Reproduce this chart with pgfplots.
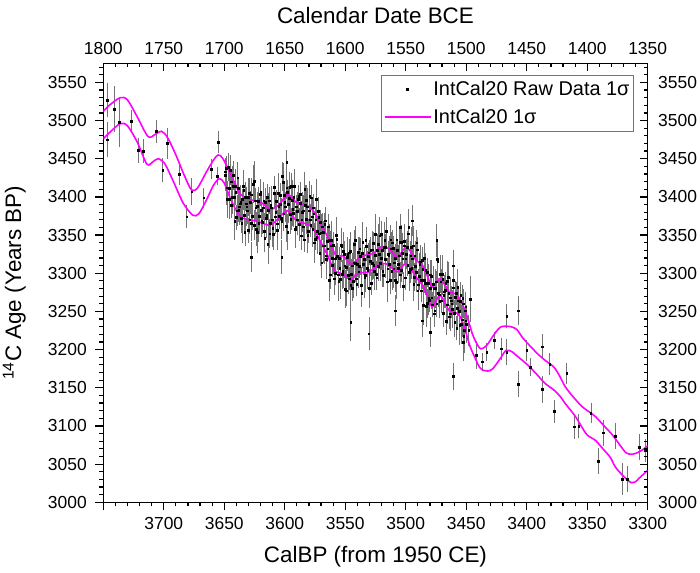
\documentclass[border=0pt]{standalone}
\usepackage{pgfplots}
\pgfplotsset{compat=1.18}
\usepackage{fontspec}
\setmainfont{Liberation Sans}
\definecolor{curve}{RGB}{255,0,255}
\pgfplotsset{
  rawlegend/.style={legend image code/.code={\draw[mark repeat=2,mark phase=2,##1] plot coordinates {(0bp,0bp) (23bp,0bp) (46bp,0bp)};}},
  linelegend/.style={legend image code/.code={\draw[##1] (0bp,0bp) -- (46bp,0bp);}},
}
\begin{document}
\begin{tikzpicture}
\path[use as bounding box] (-103.3bp,-70.7bp) rectangle (596.7bp,502.3bp);
\pgfplotsset{
  common/.style={
    width=544.4bp, height=439bp, scale only axis,
    ymin=3000, ymax=3575,
    x dir=reverse,
    axis line style={line width=1.2bp},
    tick style={black, line width=1.2bp},
    major tick length=8bp, minor tick length=4bp,
    tick label style={font=\fontsize{17.5}{20}\selectfont},
    /pgf/number format/1000 sep={},
    /pgf/number format/assume math mode=true,
    ytick={3000,3050,...,3550},
    minor ytick={3000,3010,...,3570},
  }
}
\begin{axis}[common,
  xmin=3300, xmax=3750,
  xtick={3300,3350,...,3750},
  xticklabels={3300,3350,3400,3450,3500,3550,3600,3650,3700,{}},
  minor xtick={3300,3310,...,3750},
  xtick pos=left, ytick pos=left,
  tick align=outside,
  xticklabel style={yshift=-4bp},
  yticklabel style={xshift=-5bp},
  xlabel={CalBP (from 1950 CE)},
  ylabel={\textsuperscript{14}C Age (Years BP)},
  label style={font=\fontsize{22.5}{26}\selectfont},
  xlabel style={at={(axis description cs:0.5,-0.1246)}, anchor=center},
  ylabel style={at={(axis description cs:-0.1635,0.5)}, anchor=center},
  legend style={at={(axis description cs:0.9748,0.9733)}, anchor=north east,
    draw=black!55, line width=0.8bp, fill=white,
    font=\fontsize{20}{24}\selectfont, inner xsep=2bp, inner ysep=4bp,
    row sep=8bp},
  legend cell align=left,
]
\addplot[only marks, mark=square*, mark size=0.85bp, mark options={draw=black, fill=black},
  rawlegend,
  error bars/.cd, y dir=both, y explicit, error mark=none,
  error bar style={line width=0.6bp, black!55}]
  table[x=x, y=y, y error=e, row sep=\\]{
x y e\\
3747 3527 22\\ 3747 3475 23\\ 3741 3515 30\\ 3737 3498 32\\ 3727 3499 15\\
3721 3461 16\\ 3717 3460 16\\ 3706 3486 15\\ 3701 3435 16\\ 3697 3470 20\\
3687 3430 15\\ 3681 3374 15\\ 3677 3407 18\\ 3667 3399 13\\ 3661 3436 13\\
3656 3427 12\\ 3655 3472 14\\
3649 3433 18\\ 3648 3412 22\\ 3647 3439 15\\ 3646 3411 25\\ 3645 3435 20\\ 3644 3389 16\\ 3643 3414 27\\ 3642 3400 19\\ 3641 3414 23\\ 3640 3373 17\\
3639 3425 21\\ 3638 3383 16\\ 3637 3391 24\\ 3636 3372 19\\ 3635 3397 14\\ 3634 3409 26\\ 3633 3354 18\\ 3632 3391 22\\ 3631 3382 17\\ 3630 3400 25\\
3629 3370 18\\ 3628 3403 22\\ 3627 3375 15\\ 3626 3417 25\\ 3625 3363 20\\ 3624 3386 16\\ 3623 3354 27\\ 3622 3394 19\\ 3621 3375 23\\ 3620 3406 17\\
3619 3368 21\\ 3618 3386 16\\ 3617 3355 24\\ 3616 3393 19\\ 3615 3376 14\\ 3614 3338 26\\ 3613 3395 18\\ 3612 3366 22\\ 3611 3386 17\\ 3610 3359 25\\
3609 3405 18\\ 3608 3374 22\\ 3607 3394 15\\ 3606 3356 25\\ 3605 3388 20\\ 3604 3402 16\\ 3603 3372 27\\ 3602 3427 19\\ 3601 3378 23\\ 3600 3393 17\\
3599 3362 21\\ 3598 3406 16\\ 3597 3390 24\\ 3596 3413 19\\ 3595 3371 14\\ 3594 3396 26\\ 3593 3379 18\\ 3592 3414 22\\ 3591 3361 17\\ 3590 3381 25\\
3589 3397 18\\ 3588 3364 22\\ 3587 3404 15\\ 3586 3370 25\\ 3585 3382 20\\ 3584 3344 16\\ 3583 3389 27\\ 3582 3396 19\\ 3581 3350 23\\ 3580 3382 17\\
3579 3370 21\\ 3578 3399 16\\ 3577 3358 24\\ 3576 3378 19\\ 3575 3345 14\\ 3574 3397 26\\ 3573 3355 18\\ 3572 3373 22\\ 3571 3326 17\\ 3570 3353 25\\
3569 3361 18\\ 3568 3336 22\\ 3567 3364 15\\ 3566 3323 25\\ 3565 3342 20\\ 3564 3361 16\\ 3563 3291 27\\ 3562 3336 19\\ 3561 3320 23\\ 3560 3337 17\\
3559 3293 21\\ 3558 3320 16\\ 3557 3345 24\\ 3556 3298 19\\ 3555 3320 14\\ 3554 3292 26\\ 3553 3335 18\\ 3552 3303 22\\ 3551 3325 17\\ 3550 3279 25\\
3549 3308 18\\ 3548 3325 22\\ 3547 3293 15\\ 3546 3329 25\\ 3545 3299 20\\ 3544 3280 16\\ 3543 3314 27\\ 3542 3343 19\\ 3541 3293 23\\ 3540 3312 17\\
3539 3302 21\\ 3538 3332 16\\ 3537 3284 24\\ 3536 3326 19\\ 3535 3312 14\\ 3534 3294 26\\ 3533 3343 18\\ 3532 3307 22\\ 3531 3322 17\\ 3530 3280 25\\
3529 3330 18\\ 3528 3313 22\\ 3527 3339 15\\ 3526 3303 25\\ 3525 3324 20\\ 3524 3294 16\\ 3523 3338 27\\ 3522 3325 19\\ 3521 3313 23\\ 3520 3351 17\\
3519 3303 21\\ 3518 3334 16\\ 3517 3318 24\\ 3516 3355 19\\ 3515 3306 14\\ 3514 3323 26\\ 3513 3291 18\\ 3512 3332 22\\ 3511 3340 17\\ 3510 3306 25\\
3509 3320 18\\ 3508 3288 22\\ 3507 3330 15\\ 3506 3312 25\\ 3505 3341 20\\ 3504 3304 16\\ 3503 3326 27\\ 3502 3283 19\\ 3501 3342 23\\ 3500 3319 17\\
3499 3334 21\\ 3498 3352 16\\ 3497 3301 24\\ 3496 3323 19\\ 3495 3307 14\\ 3494 3336 26\\ 3493 3295 18\\ 3492 3309 22\\ 3491 3340 17\\ 3490 3277 25\\
3489 3296 18\\ 3488 3315 22\\ 3487 3277 15\\ 3486 3305 25\\ 3485 3320 20\\ 3484 3287 16\\ 3483 3257 27\\ 3482 3301 19\\ 3481 3268 23\\ 3480 3280 17\\
3479 3296 21\\ 3478 3259 16\\ 3477 3280 24\\ 3476 3251 19\\ 3475 3289 14\\ 3474 3318 26\\ 3473 3274 18\\ 3472 3263 22\\ 3471 3289 17\\ 3470 3299 25\\
3469 3248 18\\ 3468 3276 22\\ 3467 3287 15\\ 3466 3259 25\\ 3465 3295 20\\ 3464 3243 16\\ 3463 3268 27\\ 3462 3260 19\\ 3461 3281 23\\ 3460 3248 17\\
3459 3269 21\\ 3458 3228 16\\ 3457 3282 24\\ 3456 3250 19\\ 3455 3263 14\\ 3454 3233 26\\ 3453 3267 18\\ 3452 3218 22\\ 3451 3251 17\\ 3450 3233 25\\
3649.5 3428 20\\ 3648.5 3438 15\\ 3647.5 3397 24\\ 3646.5 3439 18\\ 3645.5 3397 26\\ 3644.5 3420 17\\ 3643.5 3400 22\\ 3642.5 3428 19\\ 3641.5 3368 25\\ 3640.5 3406 16\\
3639.5 3382 20\\ 3638.5 3411 15\\ 3637.5 3387 24\\ 3636.5 3393 18\\ 3635.5 3366 26\\ 3634.5 3414 17\\ 3633.5 3376 22\\ 3632.5 3400 19\\ 3631.5 3387 25\\ 3630.5 3356 16\\
3629.5 3405 20\\ 3628.5 3393 15\\ 3627.5 3366 24\\ 3626.5 3375 18\\ 3625.5 3421 26\\ 3624.5 3395 17\\ 3623.5 3358 22\\ 3622.5 3388 19\\ 3621.5 3366 25\\ 3620.5 3404 16\\
3619.5 3383 20\\ 3618.5 3367 15\\ 3617.5 3395 24\\ 3616.5 3346 18\\ 3615.5 3372 26\\ 3614.5 3400 17\\ 3613.5 3383 22\\ 3612.5 3352 19\\ 3611.5 3389 25\\ 3610.5 3370 16\\
3609.5 3351 20\\ 3608.5 3413 15\\ 3607.5 3380 24\\ 3606.5 3365 18\\ 3605.5 3405 26\\ 3604.5 3375 17\\ 3603.5 3390 22\\ 3602.5 3368 19\\ 3601.5 3419 25\\ 3600.5 3402 16\\
3599.5 3387 20\\ 3598.5 3412 15\\ 3597.5 3354 24\\ 3596.5 3398 18\\ 3595.5 3377 26\\ 3594.5 3414 17\\ 3593.5 3384 22\\ 3592.5 3400 19\\ 3591.5 3358 25\\ 3590.5 3387 16\\
3589.5 3370 20\\ 3588.5 3401 15\\ 3587.5 3392 24\\ 3586.5 3349 18\\ 3585.5 3380 26\\ 3584.5 3361 17\\ 3583.5 3410 22\\ 3582.5 3371 19\\ 3581.5 3387 25\\ 3580.5 3355 16\\
3579.5 3401 20\\ 3578.5 3363 15\\ 3577.5 3374 24\\ 3576.5 3386 18\\ 3575.5 3340 26\\ 3574.5 3370 17\\ 3573.5 3347 22\\ 3572.5 3381 19\\ 3571.5 3352 25\\ 3570.5 3367 16\\
3569.5 3314 20\\ 3568.5 3354 15\\ 3567.5 3336 24\\ 3566.5 3369 18\\ 3565.5 3318 26\\ 3564.5 3332 17\\ 3563.5 3343 22\\ 3562.5 3298 19\\ 3561.5 3343 25\\ 3560.5 3311 16\\
3559.5 3319 20\\ 3558.5 3300 15\\ 3557.5 3350 24\\ 3556.5 3322 18\\ 3555.5 3290 26\\ 3554.5 3307 17\\ 3553.5 3337 22\\ 3552.5 3299 19\\ 3551.5 3329 25\\ 3550.5 3310 16\\
3549.5 3277 20\\ 3548.5 3321 15\\ 3547.5 3297 24\\ 3546.5 3327 18\\ 3545.5 3284 26\\ 3544.5 3310 17\\ 3543.5 3290 22\\ 3542.5 3338 19\\ 3541.5 3313 25\\ 3540.5 3286 16\\
3539.5 3328 20\\ 3538.5 3309 15\\ 3537.5 3322 24\\ 3536.5 3274 18\\ 3535.5 3341 26\\ 3534.5 3318 17\\ 3533.5 3297 22\\ 3532.5 3335 19\\ 3531.5 3304 25\\ 3530.5 3327 16\\
3529.5 3316 20\\ 3528.5 3287 15\\ 3527.5 3331 24\\ 3526.5 3311 18\\ 3525.5 3351 26\\ 3524.5 3299 17\\ 3523.5 3330 22\\ 3522.5 3309 19\\ 3521.5 3349 25\\ 3520.5 3320 16\\
3519.5 3330 20\\ 3518.5 3297 15\\ 3517.5 3343 24\\ 3516.5 3334 18\\ 3515.5 3289 26\\ 3514.5 3325 17\\ 3513.5 3312 22\\ 3512.5 3344 19\\ 3511.5 3303 25\\ 3510.5 3333 16\\
3509.5 3314 20\\ 3508.5 3291 15\\ 3507.5 3344 24\\ 3506.5 3307 18\\ 3505.5 3323 26\\ 3504.5 3298 17\\ 3503.5 3341 22\\ 3502.5 3319 19\\ 3501.5 3336 25\\ 3500.5 3294 16\\
3499.5 3325 20\\ 3498.5 3311 15\\ 3497.5 3360 24\\ 3496.5 3305 18\\ 3495.5 3334 26\\ 3494.5 3319 17\\ 3493.5 3286 22\\ 3492.5 3323 19\\ 3491.5 3301 25\\ 3490.5 3331 16\\
3489.5 3285 20\\ 3488.5 3312 15\\ 3487.5 3291 24\\ 3486.5 3317 18\\ 3485.5 3258 26\\ 3484.5 3291 17\\ 3483.5 3304 22\\ 3482.5 3261 19\\ 3481.5 3287 25\\ 3480.5 3265 16\\
3479.5 3298 20\\ 3478.5 3268 15\\ 3477.5 3286 24\\ 3476.5 3247 18\\ 3475.5 3280 26\\ 3474.5 3260 17\\ 3473.5 3316 22\\ 3472.5 3272 19\\ 3471.5 3299 25\\ 3470.5 3264 16\\
3469.5 3292 20\\ 3468.5 3271 15\\ 3467.5 3278 24\\ 3466.5 3237 18\\ 3465.5 3290 26\\ 3464.5 3274 17\\ 3463.5 3247 22\\ 3462.5 3264 19\\ 3461.5 3253 25\\ 3460.5 3291 16\\
3459.5 3236 20\\ 3458.5 3274 15\\ 3457.5 3254 24\\ 3456.5 3264 18\\ 3455.5 3232 26\\ 3454.5 3271 17\\ 3453.5 3239 22\\ 3452.5 3260 19\\ 3451.5 3225 25\\ 3450.5 3238 16\\
3627.5 3321 20\\ 3602.5 3321 22\\ 3598.5 3445 17\\ 3545.5 3236 25\\ 3530.5 3221 22\\ 3508.5 3251 20\\ 3486.5 3238 22\\ 3479.5 3223 20\\
3504.5 3360 18\\ 3494.5 3369 20\\ 3474.5 3343 22\\ 3460.5 3310 20\\ 3450.5 3256 20\\ 3452.5 3210 25\\ 3448 3225 20\\
3461 3165 18\\ 3447 3266 30\\ 3442 3193 18\\ 3437 3184 12\\ 3433 3197 12\\ 3427 3212 11\\ 3421 3201 14\\ 3416.5 3244 16\\
3416.5 3197 17\\ 3407 3251 19\\ 3407 3155 17\\ 3400 3199 14\\ 3397 3177 12\\ 3387 3204 16\\ 3387 3148 18\\ 3381 3181 14\\
3377 3119 15\\ 3367 3169 14\\ 3361 3099 16\\ 3357 3100 16\\ 3347 3117 13\\ 3341 3054 17\\ 3337 3091 17\\ 3327 3087 17\\
3321 3030 21\\ 3317 3030 17\\ 3307 3072 17\\ 3302 3068 15\\
};
\addlegendentry{IntCal20 Raw Data 1σ}
\addplot[curve, line width=1.6bp, smooth, linelegend] coordinates {
(3750,3512) (3745,3520) (3736,3530) (3730,3527) (3722,3505) (3713,3479) (3707,3482)
(3702,3486) (3697,3478) (3690,3455) (3683,3428) (3677,3409) (3672,3412) (3665,3432)
(3659,3448) (3655,3455) (3651,3450) (3645,3430) (3640,3414) (3637,3404) (3631,3398)
(3625,3395) (3619,3392) (3612.5,3384) (3608,3386) (3604,3391) (3598,3403) (3594,3398)
(3590.5,3393) (3585,3390) (3579.5,3387) (3574,3376) (3570,3364) (3566,3352) (3562,3338)
(3557.5,3323) (3552,3323) (3545,3312) (3538,3321) (3532,3324) (3527,3326) (3520,3334)
(3513.5,3332) (3507,3321) (3500,3334) (3495,3326) (3491.5,3317) (3486,3310) (3482,3296)
(3478,3282) (3472,3293) (3467,3283) (3464,3275) (3458.5,3273) (3454,3262) (3450,3247)
(3445,3221) (3441,3207) (3438,3201) (3434,3204) (3431,3210) (3426,3222) (3421,3230)
(3413,3230) (3408,3226) (3403.6,3216) (3398,3206) (3390,3193) (3384,3185) (3377.5,3177)
(3373,3166) (3368,3151) (3361,3137) (3354,3125) (3348,3118) (3343,3112) (3336,3100)
(3329,3088) (3323,3075) (3318,3065) (3314,3063) (3310,3064) (3305,3068) (3300,3074)
};
\addlegendentry{IntCal20 1σ}
\addplot[curve, line width=1.6bp, smooth, forget plot] coordinates {
(3750,3476) (3745,3484) (3736,3496) (3730,3493) (3722,3472) (3714,3443) (3709,3446)
(3704.6,3450) (3699,3443) (3692,3420) (3684,3392) (3676,3376) (3671,3378) (3665,3395)
(3659,3415) (3654,3424) (3650,3418) (3645,3398) (3640,3382) (3636,3373) (3630,3370)
(3625,3369) (3619,3366) (3612.5,3363) (3607,3369) (3603,3376) (3598,3382) (3594,3376)
(3590.5,3369) (3585,3366) (3579.5,3363) (3575,3355) (3571,3343) (3565,3325) (3559,3304)
(3552,3299) (3545,3291) (3541,3299) (3535,3301) (3530,3302) (3520,3313) (3513.5,3310)
(3507,3302) (3500,3313) (3495,3304) (3491.5,3295) (3486,3284) (3482,3270) (3478,3256)
(3472,3271) (3467,3260) (3464,3251) (3457,3247) (3453,3236) (3450,3221) (3447,3205)
(3443,3190) (3439,3177) (3436,3173) (3432,3172) (3428,3175) (3422,3188) (3417,3199)
(3412,3197) (3409,3193) (3400,3181) (3392.5,3169) (3385,3156) (3377.5,3147) (3372,3138)
(3368,3129) (3360,3113) (3351,3090) (3346,3084) (3343,3081) (3337,3070) (3331,3059)
(3326.6,3046) (3320,3034) (3314,3026) (3310,3027) (3307.5,3031) (3304,3036) (3300,3042)
};
\end{axis}
\begin{axis}[common,
  xmin=1350, xmax=1800,
  xtick={1350,1400,...,1800},
  minor xtick={1350,1360,...,1800},
  xtick pos=right, ytick pos=right,
  xticklabel pos=right, yticklabel pos=right,
  tick align=inside,
  xticklabel style={yshift=5bp},
  yticklabel style={xshift=7bp},
  axis line style={draw=none},
  xlabel={Calendar Date BCE},
  xlabel style={at={(axis description cs:0.5,1.110)}, anchor=center,
    font=\fontsize{22.5}{26}\selectfont},
]
\addplot[draw=none] coordinates {(1500,3300)};
\end{axis}
\end{tikzpicture}
\end{document}
